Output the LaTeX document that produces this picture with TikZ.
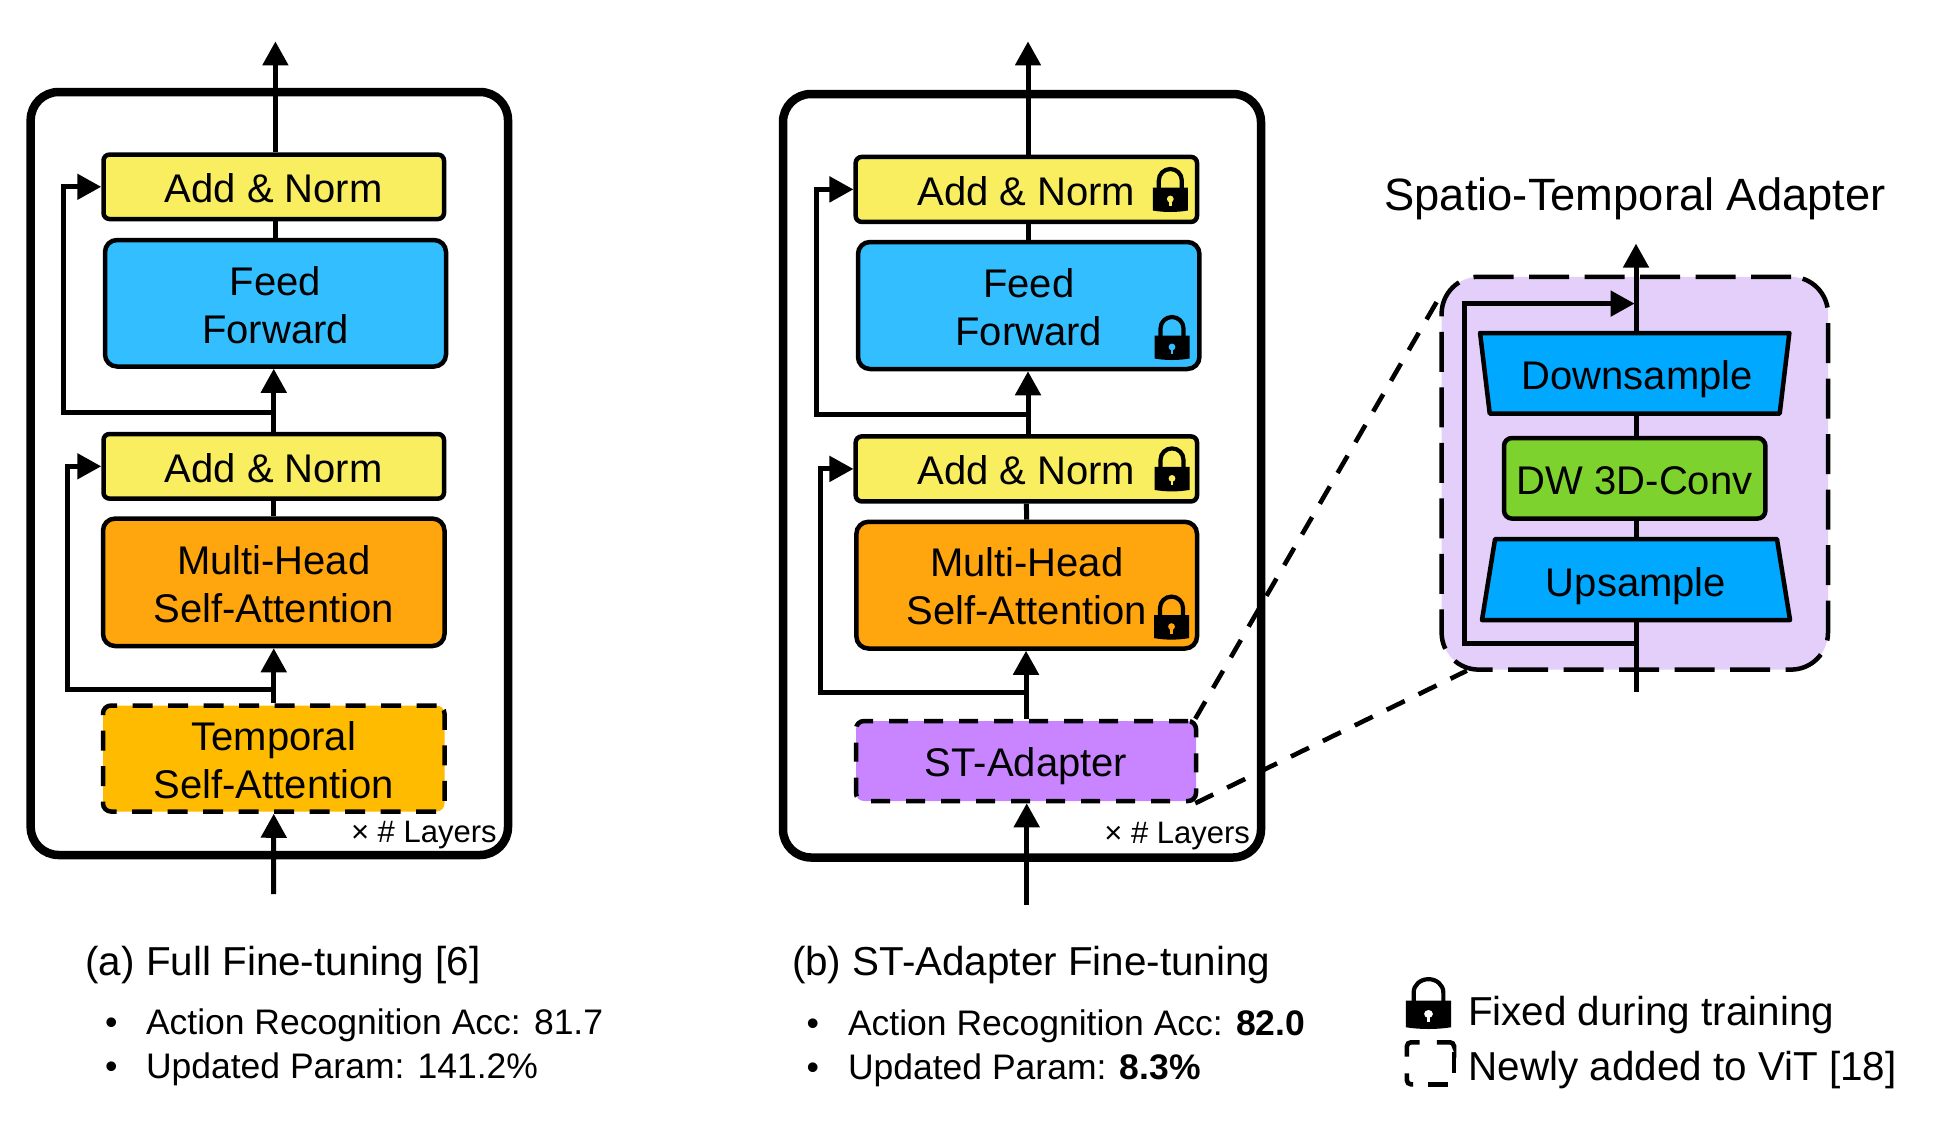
\documentclass[tikz,border=0pt]{standalone}
\usepackage{fontspec}
\setmainfont{Liberation Sans}
\usetikzlibrary{arrows.meta,shapes.geometric}
\definecolor{cyel}{HTML}{F9ED60}
\definecolor{cblu}{HTML}{33BFFF}
\definecolor{cora}{HTML}{FFA50D}
\definecolor{ctmp}{HTML}{FFBB00}
\definecolor{cpur}{HTML}{C985FF}
\definecolor{clil}{HTML}{E4CFFB}
\definecolor{cdwn}{HTML}{00A8FF}
\definecolor{cgrn}{HTML}{7ED22E}
\newcommand{\lowerline}{\rule{0pt}{32pt}}
\tikzset{
  x=1pt,y=-1pt,
  sz/.style 2 args={minimum width=#1pt,minimum height=#2pt},
  boxbase/.style={draw=black,line width=4.5pt,inner sep=0pt,align=center,font=\fontsize{40pt}{48pt}\selectfont},
  oneline/.style={text height=31.6pt,text depth=0pt},
  ybox/.style={boxbase,fill=cyel,rounded corners=6pt,oneline},
  bbox/.style={boxbase,fill=cblu,rounded corners=12pt},
  obox/.style={boxbase,fill=cora,rounded corners=12pt},
  tbox/.style={boxbase,fill=ctmp,rounded corners=8pt,dash pattern=on 20pt off 15.5pt},
  pbox/.style={boxbase,fill=cpur,rounded corners=8pt,dash pattern=on 19pt off 16pt,oneline},
  gbox/.style={boxbase,fill=cgrn,rounded corners=8pt,oneline},
  trap/.style={boxbase,fill=cdwn,trapezium,trapezium stretches=true,trapezium left angle=76,trapezium right angle=76,line join=round,oneline},
  frame/.style={draw=black,line width=8.5pt,rounded corners=28pt,inner sep=0pt},
  adbox/.style={draw=black,fill=clil,line width=4.5pt,rounded corners=37pt,dash pattern=on 40pt off 15.5pt,inner sep=0pt},
  wire/.style={draw=black,line width=5pt},
  arr/.style={wire,-{Triangle[length=24pt,width=25pt]}},
  dashline/.style={draw=black,line width=4.6pt,dash pattern=on 20pt off 15.5pt},
  lbl/.style={anchor=base west,inner sep=0pt,outer sep=0pt},
  f40/.style={font=\fontsize{40.4pt}{48pt}\selectfont},
  f36/.style={font=\fontsize{35.5pt}{43pt}\selectfont},
  f30/.style={font=\fontsize{31pt}{37pt}\selectfont},
  f45/.style={font=\fontsize{45.3pt}{54pt}\selectfont},
}
\newcommand{\lockat}[4][1]{%
  \begin{scope}[shift={(#2,#3)},xscale=#1,yscale={1+(#1-1)*0.55}]
    \draw[black,line width=4.2pt] (-11.5,-20) -- (-11.5,-31.5)
       .. controls (-11.5,-38) and (-6.3,-43) .. (0,-43)
       .. controls (6.3,-43) and (11.5,-38) .. (11.5,-31.5) -- (11.5,-20);
    \fill[black] (-17.5,-24.5) -- (17.5,-24.5) -- (17.5,-1.5)
       .. controls (6,0.5) and (-6,0.5) .. (-17.5,-1.5) -- cycle;
    \fill[#4] (0,-13) circle[radius=3.4pt];
    \fill[#4] (-1.4,-13) rectangle (1.4,-6);
  \end{scope}}
\begin{document}
\begin{tikzpicture}
\useasboundingbox (0,0) rectangle (1958,1122);

% ---- panel (a)
\node[frame,minimum width=477.3pt,minimum height=763pt] (fa) at (269.35,473.5) {};
\node[ybox,sz={340.5}{64.4}] (an1) at (273.75,186.8) {Add \& Norm};
\node[bbox,sz={341}{126.5}] (ff) at (275.5,303.25) {\lowerline Feed\\Forward};
\node[ybox,sz={340.5}{64.6}] (an2) at (273.75,466.3) {Add \& Norm};
\node[obox,sz={341.5}{127.4}] (mh) at (273.75,582.3) {\lowerline Multi-Head\\Self-Attention};
\node[tbox,sz={341.5}{106}] (ts) at (273.75,758.5) {\lowerline Temporal\\Self-Attention};
\coordinate (atop) at (275.4,41.4);
\coordinate (ain) at (273.6,894);
\coordinate (aj1) at (275,412.5);
\coordinate (aj2) at (273.6,689);
\draw[arr] (an1.north -| atop) -- (atop);
\draw[wire] (ff.north) -- (ff.north |- an1.south);
\draw[arr] (an2.north) -- (an2.north |- ff.south);
\draw[wire] (mh.north) -- (an2.south);
\draw[arr] (ts.north) -- (mh.south);
\draw[arr] (ain) -- (ts.south);
\draw[arr] (aj1) -| (63.5,186.8) -- (an1.west);
\draw[arr] (aj2) -| (67.3,466.3) -- (an2.west);
\node[lbl,f30] (la) at (351,842.6) {× \# Layers};
\node[lbl,f40] (capa) at (85.5,975) {(a) Full Fine-tuning [6]};
\node[lbl,f36] (ba1) at (105,1034.5) {•};
\node[lbl,f36] (ta1) at (146,1034.5) {Action Recognition Acc: 81.7};
\node[lbl,f36] (ba2) at (105,1078.5) {•};
\node[lbl,f36] (ta2) at (146,1078.5) {Updated Param: 141.2\%};

% ---- panel (b)
\node[frame,minimum width=478pt,minimum height=763.5pt] (fb) at (1022,475.75) {};
\node[ybox,sz={341.3}{65}] (bn1) at (1026.35,189.4) {Add \& Norm};
\node[bbox,sz={341.4}{127}] (bf) at (1028.7,305.5) {\lowerline Feed\\Forward};
\node[ybox,sz={341.3}{65}] (bn2) at (1026.35,468.9) {Add \& Norm};
\node[obox,sz={340.6}{126.7}] (bm) at (1026.7,585.15) {\lowerline Multi-Head\\Self-Attention};
\node[pbox,sz={340}{80}] (st) at (1026,761) {ST-Adapter};
\coordinate (btop) at (1028,41.4);
\coordinate (bin) at (1026.7,905);
\coordinate (bj1) at (1028,414.6);
\coordinate (bj2) at (1026.7,692);
\draw[arr] (bn1.north -| btop) -- (btop);
\draw[wire] (bf.north) -- (bf.north |- bn1.south);
\draw[arr] (bn2.north -| btop) -- (btop |- bf.south);
\draw[wire] (bm.north) -- (bn2.south);
\draw[arr] (st.north) -- (st.north |- bm.south);
\draw[arr] (bin) -- (bin |- st.south);
\draw[arr] (bj1) -| (816.5,189.4) -- (bn1.west);
\draw[arr] (bj2) -| (820.3,468.9) -- (bn2.west);
\lockat{1170.3}{212}{cyel}
\lockat{1172}{360}{cblu}
\lockat{1172}{491.4}{cyel}
\lockat{1171.5}{639.6}{cora}
\node[lbl,f30] (lb) at (1104.4,843.5) {× \# Layers};
\node[lbl,f40] (capb) at (792,975) {(b) ST-Adapter Fine-tuning};
\node[lbl,f36] (bb1) at (806.5,1035.5) {•};
\node[lbl,f36] (tb1) at (848,1035.5) {Action Recognition Acc: \textbf{82.0}};
\node[lbl,f36] (bb2) at (806.5,1079.5) {•};
\node[lbl,f36] (tb2) at (848,1079.5) {Updated Param: \textbf{8.3\%}};

% ---- adapter
\node[lbl,f45] (title) at (1384.5,210) {Spatio-Temporal Adapter};
\node[adbox,minimum width=386.4pt,minimum height=392.8pt] (ad) at (1634.8,473.2) {};
\node[trap,shape border rotate=180,minimum width=309.4pt,minimum height=80.6pt] (dn) at (1634.7,373.3) {\hspace*{5pt}Downsample};
\node[gbox,sz={261.4}{80.6}] (dw) at (1634.7,478.3) {DW 3D-Conv};
\node[trap,text height=33.5pt,minimum width=309pt,minimum height=81pt] (up) at (1636,579.5) {Upsample};
\coordinate (adout) at (1636,243.6);
\coordinate (adin) at (1636,692);
\coordinate (adj) at (1636,643);
\coordinate (adm) at (1634.6,303.6);
\coordinate (adtop) at (1443,291);
\coordinate (adbot) at (1466.8,670.7);
\draw[arr] (adout |- dn.north) -- (adout);
\draw[wire] (adout |- dw.north) -- (adout |- dn.south);
\draw[wire] (adout |- up.north) -- (adout |- dw.south);
\draw[wire] (adin) -- (adout |- up.south);
\draw[arr] (adj) -| (1464.5,303.6) -- (adm);
\draw[dashline] ([xshift=-3pt]st.north east) -- (adtop);
\draw[dashline] ([xshift=-3pt]st.south east) -- (adbot);

% ---- legend
\lockat[1.29]{1428.5}{1029}{white}
\node[lbl,f40] (lg1) at (1468,1025) {Fixed during training};
\node[lbl,f40] (lg2) at (1468.5,1080.5) {Newly added to ViT [18]};
\begin{scope}[line width=4.6pt,rounded corners=4pt]
\draw (1406.9,1056.7) -- (1406.9,1042.3) -- (1419.6,1042.3);
\draw (1436.8,1042.3) -- (1454,1042.3) -- (1454,1045);
\draw (1454,1051.7) -- (1454,1073.3);
\draw (1428.2,1084.3) -- (1447.8,1084.3);
\draw (1406.9,1073.3) -- (1406.9,1084.3) -- (1413,1084.3);
\end{scope}
\end{tikzpicture}
\end{document}
